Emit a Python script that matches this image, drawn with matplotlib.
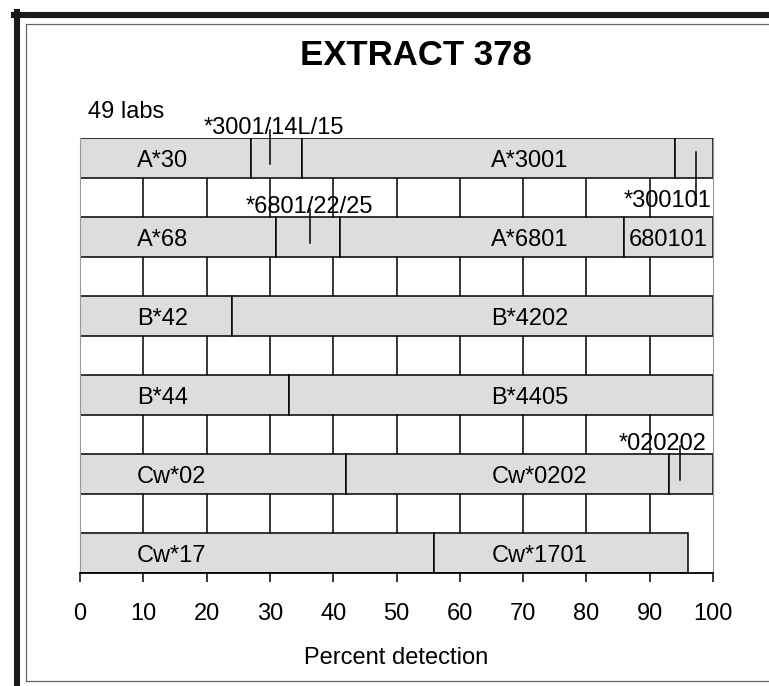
import matplotlib
matplotlib.use("Agg")
import matplotlib.pyplot as plt
from matplotlib.lines import Line2D
import numpy as np

plt.rcParams['font.family'] = ['Liberation Sans', 'DejaVu Sans']

# one row per locus, segments stacked left to right (percent of labs)
rows = ['A*30', 'A*68', 'B*42', 'B*44', 'Cw*02', 'Cw*17']
seg_widths = [
  [27, 8, 59, 6],
  [31, 10, 45, 14],
  [24, 76],
  [33, 67],
  [42, 51, 7],
  [56, 40],
]
seg_labels = [
  ['A*30', '', 'A*3001', ''],
  ['A*68', '', 'A*6801', '680101'],
  ['B*42', 'B*4202'],
  ['B*44', 'B*4405'],
  ['Cw*02', 'Cw*0202', ''],
  ['Cw*17', 'Cw*1701'],
]
# where each segment label starts (left aligned)
seg_label_x = [
  [9, 0, 65, 0],
  [9, 0, 65, 86.7],
  [9, 65],
  [9, 65],
  [9, 65, 0],
  [9, 65],
]

# extra alleles marked with a small line
note_text = ['*3001/14L/15', '*300101', '*6801/22/25', '*020202']
note_row = [0, 0, 1, 4]
note_marker = [30, 97.3, 36.3, 94.8]
note_x = [30.6, 92.9, 36.3, 92.1]
note_side = ['above', 'below', 'above', 'above']

xticks = list(range(0, 101, 10))

FS = 17
fig = plt.figure(figsize=(7.69, 6.86), dpi=100)
ax = fig.add_axes([80/769, 1 - 573/686, 633/769, 435/686])

bar_h = 0.506
for i, widths in enumerate(seg_widths):
  left = 0
  for w, lab, lx in zip(widths, seg_labels[i], seg_label_x[i]):
    ax.barh(i, w, left=left, height=bar_h, color='#dddddd', edgecolor='black',
            linewidth=1.1, zorder=2)
    if lab:
      ax.text(lx, i + 0.04, lab, ha='left', va='center', fontsize=FS, zorder=4)
    left += w

for t, r, mx, tx, side in zip(note_text, note_row, note_marker, note_x, note_side):
  if side == 'above':
    ax.plot([mx, mx], [r + 0.07, r - 0.36], color='black', lw=1.1, zorder=3,
            clip_on=False)
    ax.text(tx, r - 0.30, t, ha='center', va='baseline', fontsize=FS, zorder=4,
            clip_on=False)
  else:
    ax.plot([mx, mx], [r - 0.08, r + 0.6], color='black', lw=1.1, zorder=3)
    ax.text(tx, r + 0.62, t, ha='center', va='baseline', fontsize=FS, zorder=4)

# grid lines only show in the gaps between the bars
ax.vlines(np.arange(10, 100, 10), -bar_h/2, len(rows) - 1 + bar_h/2,
          color='black', lw=1.1, zorder=1)

ax.set_xlim(0, 100)
ax.set_ylim(len(rows) - 1 + bar_h/2, -bar_h/2)
ax.set_xticks(xticks)
ax.set_yticks([])
ax.tick_params(axis='x', length=6.5, width=1.1, pad=15, labelsize=FS)
ax.spines['top'].set_visible(False)
ax.spines['left'].set_color('#999999')
ax.spines['right'].set_color('#999999')
ax.spines['bottom'].set_linewidth(1.3)
ax.set_xlabel('Percent detection', fontsize=FS, labelpad=16)

fig.text(416/769, 1 - 55.5/686, 'EXTRACT 378', ha='center', va='center',
         fontsize=25, fontweight='bold')
fig.text(87.7/769, 1 - 118.3/686, '49 labs', ha='left', va='baseline', fontsize=FS)

# picture frame
fig.add_artist(Line2D([17/769, 17/769], [0, 1 - 12/686], color='#1a1a1a', lw=4.4))
fig.add_artist(Line2D([14/769, 1], [1 - 15/686, 1 - 15/686], color='#1a1a1a', lw=4.4))
fig.add_artist(Line2D([26/769, 26/769], [1 - 24/686, 1 - 681/686], color='#666666', lw=0.9))
fig.add_artist(Line2D([26/769, 1], [1 - 24/686, 1 - 24/686], color='#666666', lw=0.9))
fig.add_artist(Line2D([26/769, 1], [1 - 681/686, 1 - 681/686], color='#666666', lw=0.9))

fig.savefig('out.png', dpi=100)
